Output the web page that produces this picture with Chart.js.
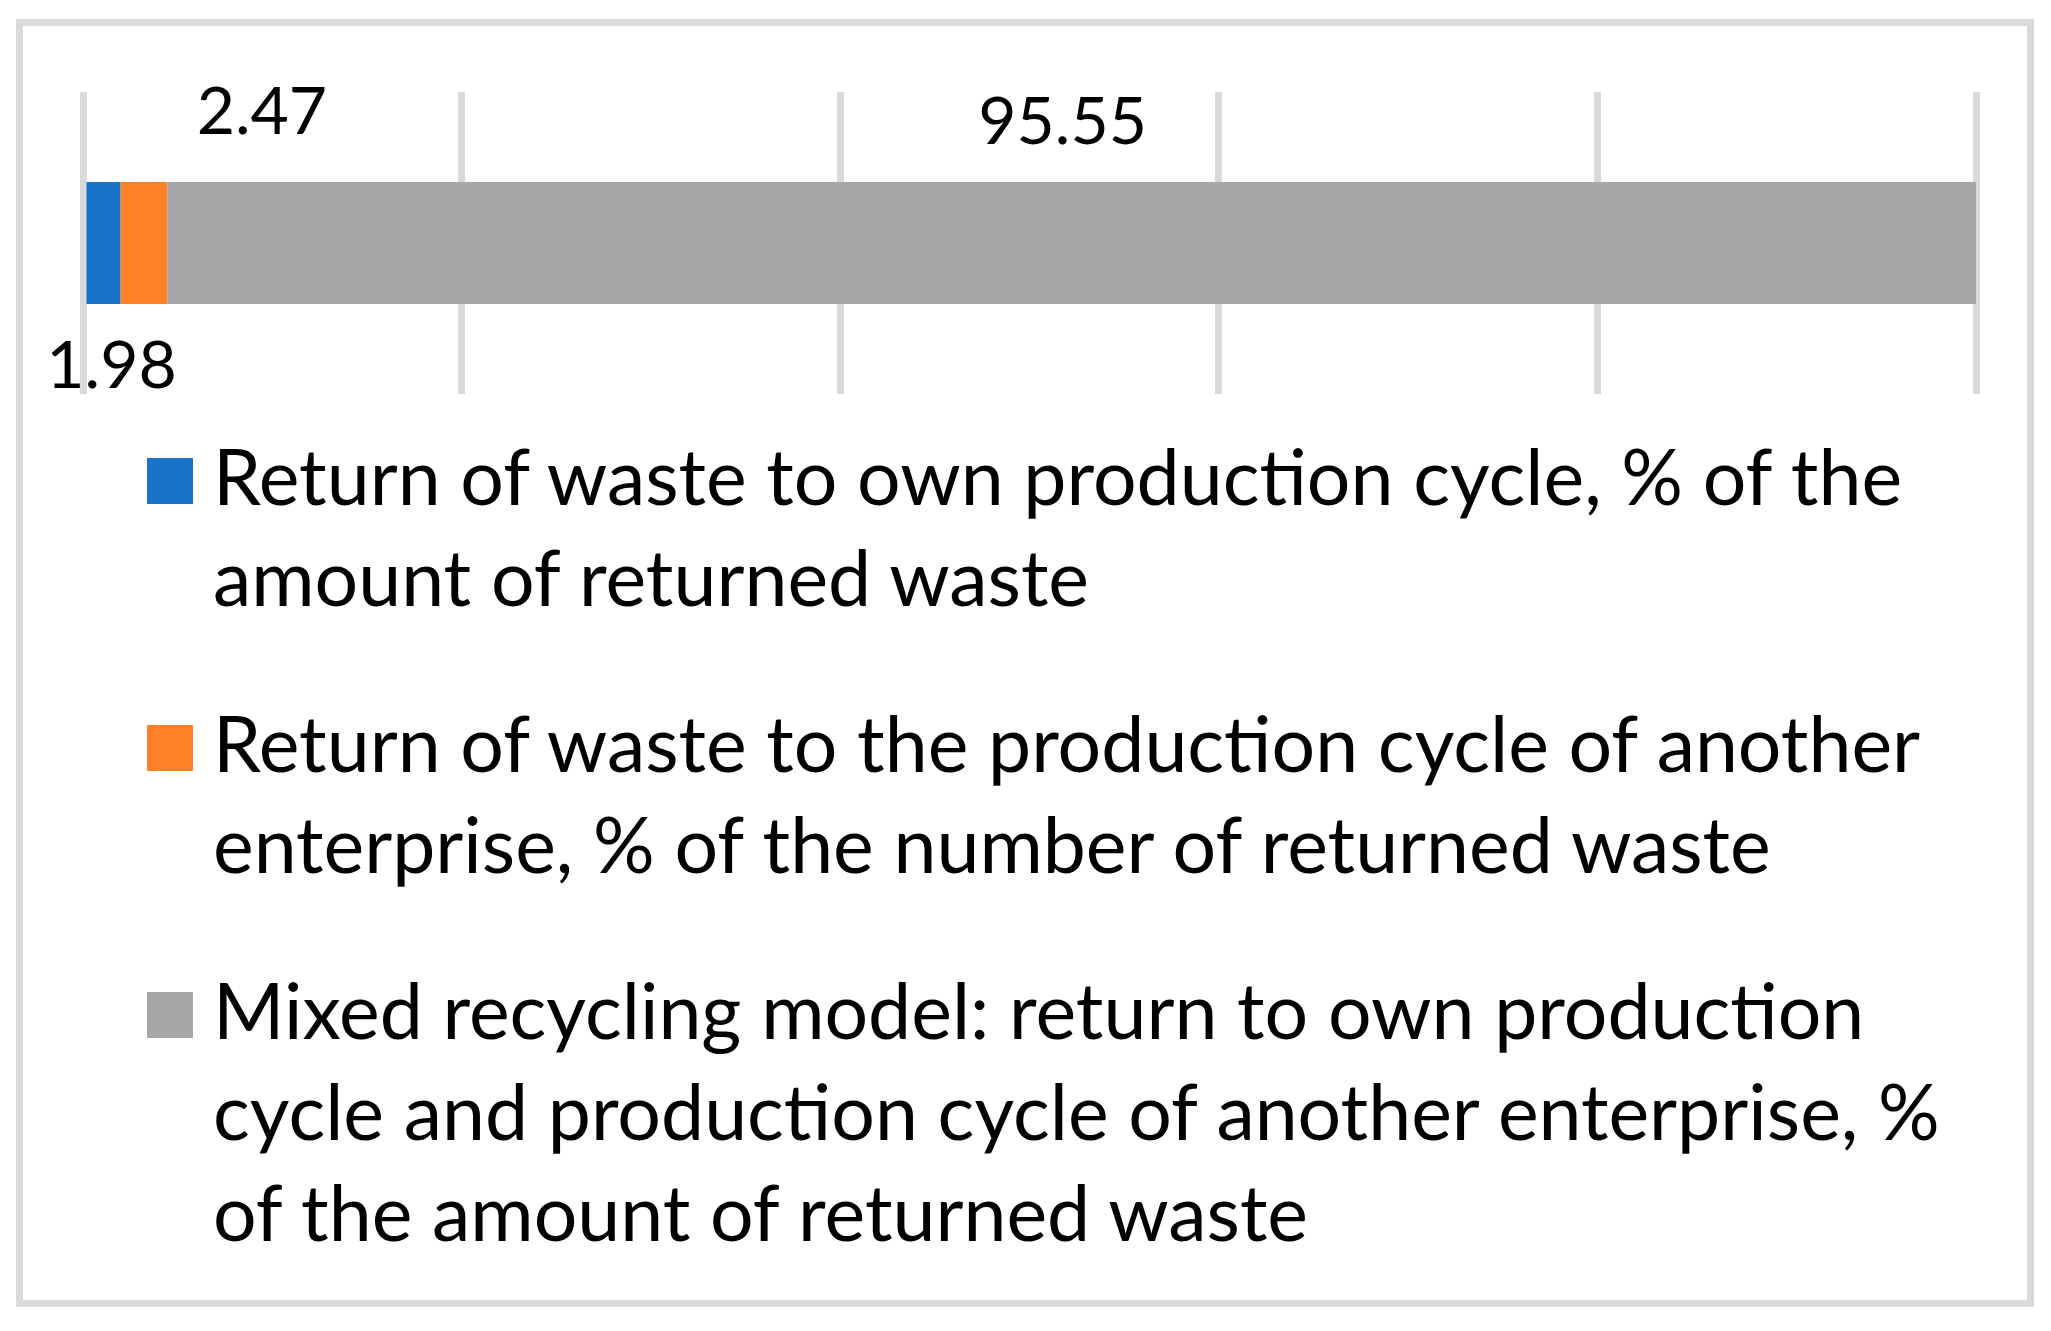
<!DOCTYPE html>
<html lang="en">
<head>
    <meta charset="UTF-8">
    <title>Waste return models</title>
    <script src="https://cdn.jsdelivr.net/npm/chart.js"></script>
    <style>
        html, body { margin: 0; padding: 0; background: #fff; }
        #page { position: relative; width: 2051px; height: 1331px; overflow: hidden; }
        #frame {
            position: absolute; left: 16px; top: 19px;
            width: 2004px; height: 1274px;
            border: 7px solid #d9d9d9;
        }
        #chart { position: absolute; left: 0; top: 0; }
        #legend {
            position: absolute; left: 147px; top: 425px;
            font-family: Lato, "Open Sans", sans-serif; font-size: 77px; color: #000;
        }
        .item { display: flex; align-items: flex-start; margin-bottom: 65px; }
        .box { width: 46px; height: 46px; margin-top: 33px; margin-right: 20px; flex: none; }
        .line { line-height: 101px; height: 101px; white-space: nowrap; }
    </style>
</head>
<body>
<div id="page">
    <div id="frame"></div>
    <canvas id="chart" width="2051" height="420"></canvas>
    <div id="legend"></div>
</div>

<script>
    // data
    const categories = [''];
    const seriesNames = [
        ['Return of waste to own production cycle, % of the', 'amount of returned waste'],
        ['Return of waste to the production cycle of another', 'enterprise, % of the number of returned waste'],
        ['Mixed recycling model: return to own production', 'cycle and production cycle of another enterprise, %', 'of the amount of returned waste']
    ];
    const ownCycle = [1.98];
    const otherEnterprise = [2.47];
    const mixedModel = [95.55];
    const axisTicks = [0, 20, 40, 60, 80, 100];

    const colors = ['#1874CB', '#FF8027', '#A7A7A7'];
    // where each value label sits relative to its segment
    const labelPlace = [
        { dx: 8, below: true, gap: 63 },
        { dx: 118, below: false, gap: 69 },
        { dx: -9, below: false, gap: 59 }
    ];

    const valueLabels = {
        id: 'valueLabels',
        afterDatasetsDraw(chart) {
            const ctx = chart.ctx;
            ctx.save();
            ctx.font = '66px Lato, "Open Sans", sans-serif';
            ctx.fillStyle = '#000';
            ctx.textAlign = 'center';
            ctx.textBaseline = 'middle';
            chart.data.datasets.forEach((ds, i) => {
                const meta = chart.getDatasetMeta(i);
                meta.data.forEach((bar, j) => {
                    const p = labelPlace[i];
                    const cx = (bar.base + bar.x) / 2 + p.dx;
                    const half = bar.height / 2;
                    const cy = p.below ? bar.y + half + p.gap : bar.y - half - p.gap;
                    ctx.fillText(ds.data[j].toFixed(2), cx, cy);
                });
            });
            ctx.restore();
        }
    };

    const ctx = document.getElementById('chart').getContext('2d');
    const chart = new Chart(ctx, {
        type: 'bar',
        data: {
            labels: categories,
            datasets: [
                { label: seriesNames[0], data: ownCycle, backgroundColor: colors[0] },
                { label: seriesNames[1], data: otherEnterprise, backgroundColor: colors[1] },
                { label: seriesNames[2], data: mixedModel, backgroundColor: colors[2] }
            ]
        },
        options: {
            indexAxis: 'y',
            responsive: false,
            animation: false,
            devicePixelRatio: 1,
            layout: { padding: { left: 83, right: 75, top: 92, bottom: 26 } },
            datasets: { bar: { categoryPercentage: 1, barPercentage: 0.404, borderWidth: 0 } },
            plugins: { legend: { display: false }, tooltip: { enabled: false } },
            scales: {
                x: {
                    stacked: true,
                    min: axisTicks[0],
                    max: axisTicks[axisTicks.length - 1],
                    ticks: { display: false, stepSize: axisTicks[1] - axisTicks[0] },
                    grid: { color: '#d9d9d9', lineWidth: 7, drawTicks: false },
                    border: { display: false }
                },
                y: { stacked: true, display: false }
            }
        },
        plugins: [valueLabels]
    });

    // legend built from the chart datasets
    const legend = document.getElementById('legend');
    chart.data.datasets.forEach(ds => {
        const item = document.createElement('div');
        item.className = 'item';
        const box = document.createElement('div');
        box.className = 'box';
        box.style.background = ds.backgroundColor;
        const text = document.createElement('div');
        ds.label.forEach(l => {
            const line = document.createElement('div');
            line.className = 'line';
            line.textContent = l;
            text.appendChild(line);
        });
        item.appendChild(box);
        item.appendChild(text);
        legend.appendChild(item);
    });
</script>
</body>
</html>
